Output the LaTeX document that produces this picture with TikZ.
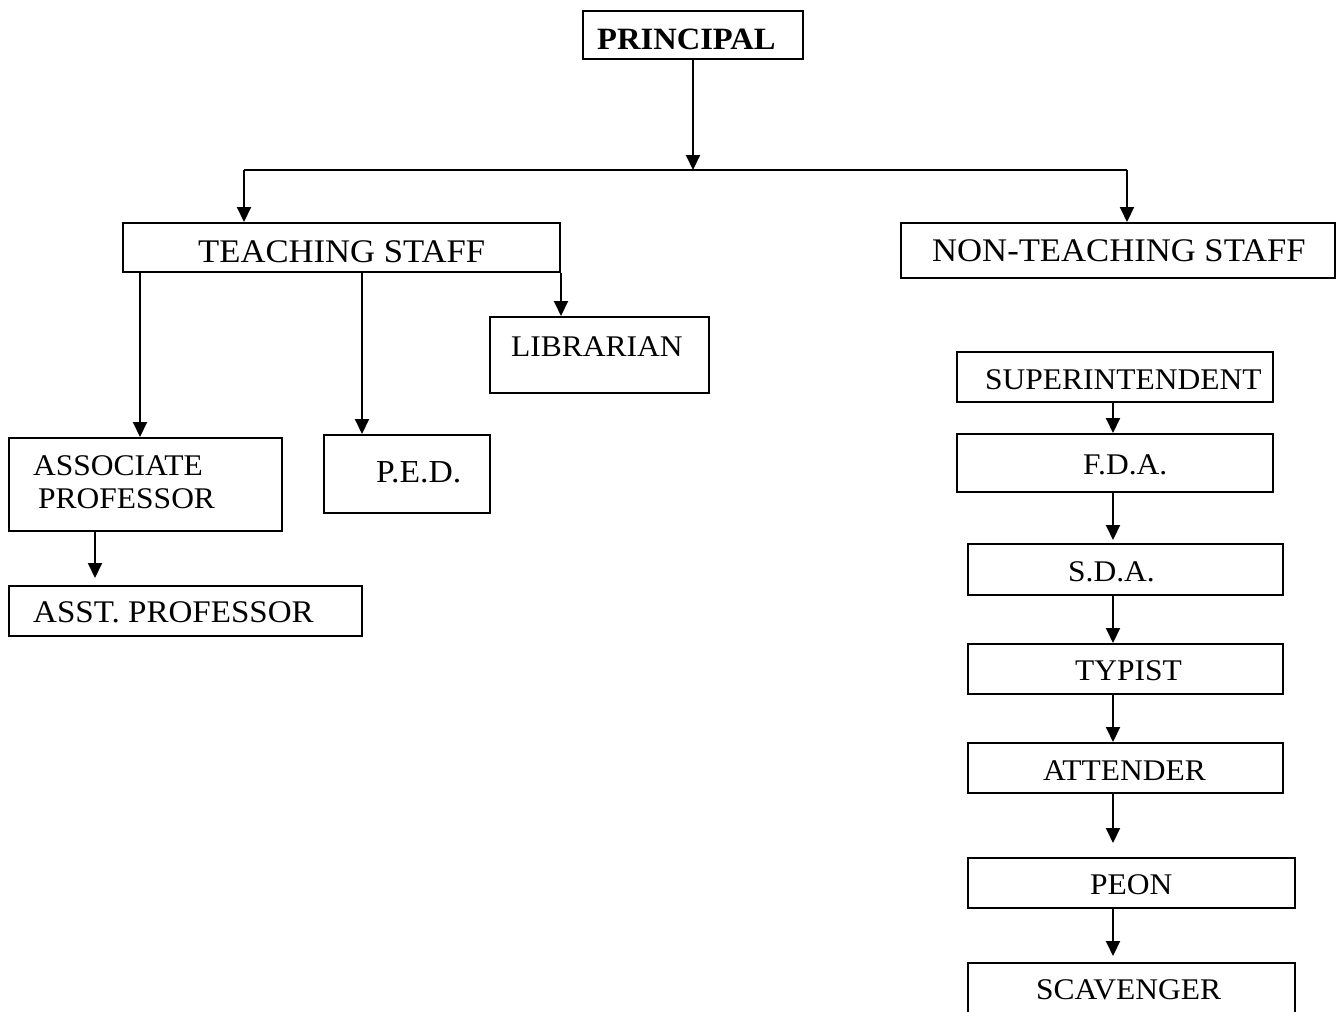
\documentclass[tikz,border=0pt]{standalone}
\usepackage{fontspec}
\setmainfont{Liberation Serif}[FakeStretch=1.05]
\usetikzlibrary{arrows.meta,calc}
\tikzset{
  box/.style={draw, line width=2pt, rectangle, inner sep=0pt, anchor=north west},
  lbl/.style={inner sep=0pt, anchor=west, font=\fontsize{30}{33}\selectfont},
  big/.style={font=\fontsize{33}{36}\selectfont},
  arr/.style={line width=2pt, -{Triangle[width=14pt,length=15pt]}},
  ln/.style={line width=2pt}
}
\begin{document}
\begin{tikzpicture}[x=1pt,y=-1pt]
\useasboundingbox (0,0) rectangle (1336,1012);
% boxes
\node[box, minimum width=220pt, minimum height=48pt] (pr) at (582,10) {};
\node[lbl, font=\fontsize{31}{33}\selectfont\bfseries] (prt) at (597,39) {PRINCIPAL};

\node[box, minimum width=437pt, minimum height=49pt] (ts) at (122,222) {};
\node[lbl, big] (tst) at (198,252) {TEACHING STAFF};

\node[box, minimum width=434pt, minimum height=55pt] (nts) at (900,222) {};
\node[lbl, big] (ntst) at (932,251) {NON-TEACHING STAFF};

\node[box, minimum width=219pt, minimum height=76pt] (lib) at (489,316) {};
\node[lbl] (libt) at (511,347) {LIBRARIAN};

\node[box, minimum width=273pt, minimum height=93pt] (ap) at (8,437) {};
\node[lbl, align=left] (apt) at (33,482) {ASSOCIATE\\\hspace{5pt}PROFESSOR};

\node[box, minimum width=166pt, minimum height=78pt] (ped) at (323,434) {};
\node[lbl, font=\fontsize{32}{35}\selectfont] (pedt) at (376,472) {P.E.D.};

\node[box, minimum width=353pt, minimum height=50pt] (asp) at (8,585) {};
\node[lbl, font=\fontsize{31.5}{35}\selectfont] (aspt) at (33,612) {ASST. PROFESSOR};

\node[box, minimum width=316pt, minimum height=50pt] (sup) at (956,351) {};
\node[lbl] (supt) at (985,380) {SUPERINTENDENT};

\node[box, minimum width=316pt, minimum height=58pt] (fda) at (956,433) {};
\node[lbl] (fdat) at (1083,465) {F.D.A.};

\node[box, minimum width=315pt, minimum height=51pt] (sda) at (967,543) {};
\node[lbl] (sdat) at (1068,572) {S.D.A.};

\node[box, minimum width=315pt, minimum height=50pt] (typ) at (967,643) {};
\node[lbl] (typt) at (1075,671) {TYPIST};

\node[box, minimum width=315pt, minimum height=50pt] (att) at (967,742) {};
\node[lbl] (attt) at (1043,771) {ATTENDER};

\node[box, minimum width=327pt, minimum height=50pt] (peon) at (967,857) {};
\node[lbl] (peont) at (1090,885) {PEON};

\node[box, minimum width=327pt, minimum height=52pt] (sca) at (967,962) {};
\node[lbl] (scat) at (1036,990) {SCAVENGER};

% connectors
\coordinate (hub) at (693,170);
\coordinate (hubL) at (244,170);
\coordinate (hubR) at (1127,170);
\draw[arr] (pr.south -| hub) -- (hub);
\draw[ln] (hubL) -- (hubR);
\draw[arr] (hubL) -- (hubL |- ts.north);
\draw[arr] (hubR) -- (hubR |- nts.north);

\draw[arr] ([xshift=18pt]ts.south west) -- ([xshift=18pt]ts.south west |- ap.north);
\draw[arr] ([xshift=240pt]ts.south west) -- ([xshift=240pt]ts.south west |- ped.north);
\draw[arr] (ts.south east) -- (ts.south east |- lib.north);
\draw[arr] ([xshift=87pt]ap.south west) -- ([xshift=87pt,yshift=7pt]ap.south west |- asp.north);

\coordinate (cx) at (1113,0);
\draw[arr] (cx |- sup.south) -- (cx |- fda.north);
\draw[arr] (cx |- fda.south) -- ([yshift=3pt]cx |- sda.north);
\draw[arr] (cx |- sda.south) -- (cx |- typ.north);
\draw[arr] (cx |- typ.south) -- (cx |- att.north);
\draw[arr] (cx |- att.south) -- ([yshift=14pt]cx |- peon.north);
\draw[arr] (cx |- peon.south) -- ([yshift=6pt]cx |- sca.north);
\end{tikzpicture}
\end{document}
